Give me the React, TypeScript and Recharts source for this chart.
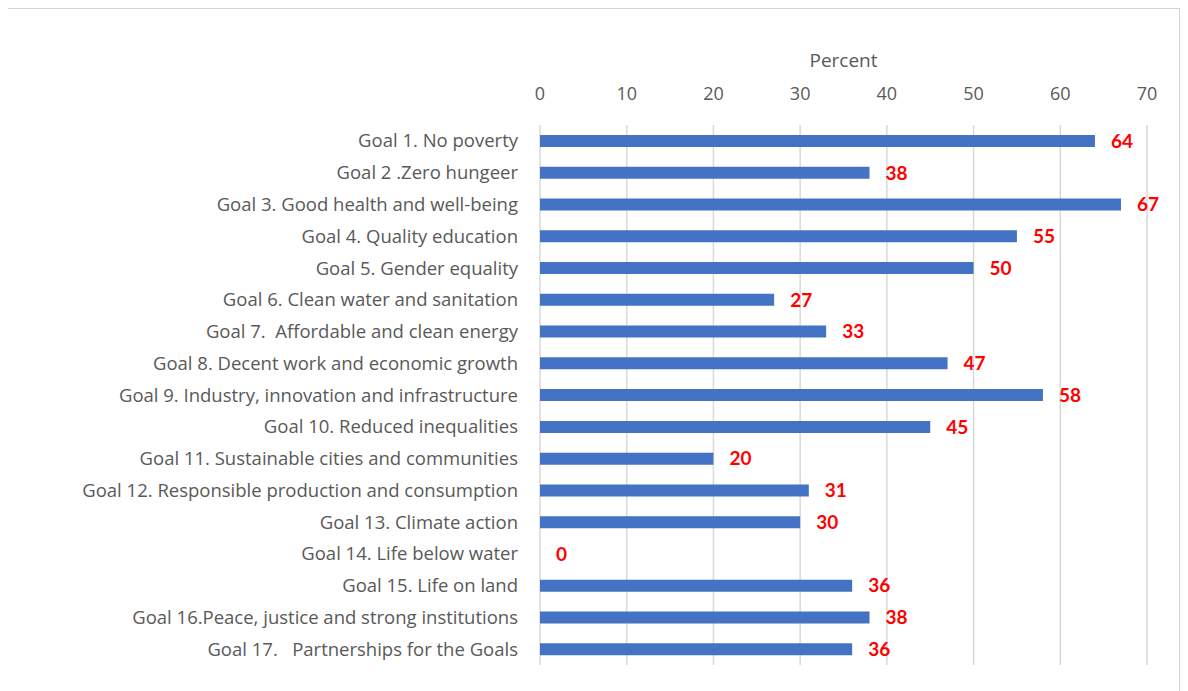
import { BarChart, Bar, XAxis, YAxis, CartesianGrid, LabelList, Label } from 'recharts'

const goals = [
  'Goal 1. No poverty',
  'Goal 2 .Zero hungeer',
  'Goal 3. Good health and well-being',
  'Goal 4. Quality education',
  'Goal 5. Gender equality',
  'Goal 6. Clean water and sanitation',
  'Goal 7.\u00A0 Affordable and clean energy',
  'Goal 8. Decent work and economic growth',
  'Goal 9. Industry, innovation and infrastructure',
  'Goal 10. Reduced inequalities',
  'Goal 11. Sustainable cities and communities',
  'Goal 12. Responsible production and consumption',
  'Goal 13. Climate action',
  'Goal 14. Life below water',
  'Goal 15. Life on land',
  'Goal 16.Peace, justice and strong institutions',
  'Goal 17.\u00A0\u00A0 Partnerships for the Goals',
]

const percents = [64, 38, 67, 55, 50, 27, 33, 47, 58, 45, 20, 31, 30, 0, 36, 38, 36]

const xTicks = [0, 10, 20, 30, 40, 50, 60, 70]

const data = goals.map((goal, i) => ({ goal, percent: percents[i] }))

const font = '"Open Sans", Lato, sans-serif'
const labelFont = 'Lato, sans-serif'

export default function App() {
  return (
    <div style={{ width: 1173, height: 690, border: '1px solid #d4d4d4', boxSizing: 'border-box', marginLeft: -1, fontFamily: font }}>
      <BarChart
        width={1171}
        height={688}
        data={data}
        layout="vertical"
        margin={{ top: 0, right: 32, bottom: 32, left: 0 }}
        barCategoryGap={10}
      >
        <CartesianGrid horizontal={false} stroke="#d9d9d9" strokeWidth={1.5} />
        <XAxis
          type="number"
          orientation="top"
          domain={[0, 70]}
          ticks={xTicks}
          height={116}
          axisLine={false}
          tickLine={false}
          tickSize={0}
          tickMargin={25}
          tick={{ fill: '#595959', fontSize: 18, fontFamily: font }}
        >
          <Label value="Percent" position="insideTop" offset={45} fill="#595959" fontSize={19} fontFamily={font} />
        </XAxis>
        <YAxis
          type="category"
          dataKey="goal"
          width={532}
          axisLine={false}
          tickLine={false}
          tickSize={0}
          tickMargin={22}
          interval={0}
          tick={{ fill: '#595959', fontSize: 18.5, fontFamily: font }}
        />
        <Bar dataKey="percent" fill="#4472C4" barSize={12} minPointSize={0.01} isAnimationActive={false}>
          <LabelList dataKey="percent" position="right" offset={16} fill="#ff0000" fontSize={19} fontWeight="bold" fontFamily={labelFont} />
        </Bar>
      </BarChart>
    </div>
  )
}
